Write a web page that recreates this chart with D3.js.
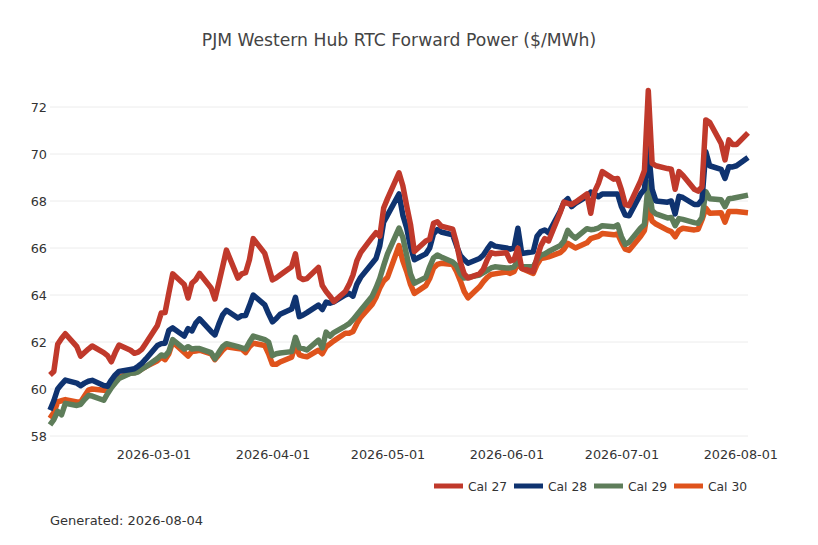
<!DOCTYPE html>
<html>
<head>
<meta charset="utf-8">
<script src="https://cdn.jsdelivr.net/npm/d3@7"></script>
<style>
  body { margin: 0; background: #fff; }
  svg { font-family: "DejaVu Sans", sans-serif; }
</style>
</head>
<body>
<svg width="818" height="545"></svg>
<script>
// business days, Feb 2 to Aug 3 2026
var dates = [
  "2026-02-02","2026-02-03","2026-02-04","2026-02-05","2026-02-06",
  "2026-02-09","2026-02-10","2026-02-11","2026-02-12","2026-02-13",
  "2026-02-16","2026-02-17","2026-02-18","2026-02-19","2026-02-20",
  "2026-02-23","2026-02-24","2026-02-25","2026-02-26","2026-02-27",
  "2026-03-02","2026-03-03","2026-03-04","2026-03-05","2026-03-06",
  "2026-03-09","2026-03-10","2026-03-11","2026-03-12","2026-03-13",
  "2026-03-16","2026-03-17","2026-03-18","2026-03-19","2026-03-20",
  "2026-03-23","2026-03-24","2026-03-25","2026-03-26","2026-03-27",
  "2026-03-30","2026-03-31",
  "2026-04-01","2026-04-02","2026-04-03",
  "2026-04-06","2026-04-07","2026-04-08","2026-04-09","2026-04-10",
  "2026-04-13","2026-04-14","2026-04-15","2026-04-16","2026-04-17",
  "2026-04-20","2026-04-21","2026-04-22","2026-04-23","2026-04-24",
  "2026-04-27","2026-04-28","2026-04-29","2026-04-30",
  "2026-05-01",
  "2026-05-04","2026-05-05","2026-05-06","2026-05-07","2026-05-08",
  "2026-05-11","2026-05-12","2026-05-13","2026-05-14","2026-05-15",
  "2026-05-18","2026-05-19","2026-05-20","2026-05-21","2026-05-22",
  "2026-05-25","2026-05-26","2026-05-27","2026-05-28","2026-05-29",
  "2026-06-01","2026-06-02","2026-06-03","2026-06-04","2026-06-05",
  "2026-06-08","2026-06-09","2026-06-10","2026-06-11","2026-06-12",
  "2026-06-15","2026-06-16","2026-06-17","2026-06-18","2026-06-19",
  "2026-06-22","2026-06-23","2026-06-24","2026-06-25","2026-06-26",
  "2026-06-29","2026-06-30",
  "2026-07-01","2026-07-02","2026-07-03",
  "2026-07-06","2026-07-07","2026-07-08","2026-07-09","2026-07-10",
  "2026-07-13","2026-07-14","2026-07-15","2026-07-16","2026-07-17",
  "2026-07-20","2026-07-21","2026-07-22","2026-07-23","2026-07-24",
  "2026-07-27","2026-07-28","2026-07-29","2026-07-30","2026-07-31",
  "2026-08-03"
];

var cal27 = [
  60.6, 60.75, 61.9, 62.15, 62.35, 61.8, 61.4, 61.55, 61.7, 61.83,
  61.55, 61.42, 61.16, 61.55, 61.87, 61.65, 61.52, 61.57, 61.7, 61.95,
  62.7, 63.23, 63.25, 64.1, 64.9, 64.45, 63.87, 64.5, 64.65, 64.92,
  64.3, 63.83, 64.5, 65.2, 65.91, 64.72, 64.9, 64.95, 65.5, 66.4,
  65.77, 65.2,
  64.64, 64.73, 64.85, 65.2, 65.75, 64.75, 64.66, 64.7, 65.17, 64.4,
  64.15, 63.95, 63.72, 64.15, 64.45, 64.85, 65.45, 65.8, 66.45, 66.65,
  66.5, 67.7,
  68.1, 69.2, 68.65, 67.8, 67.0, 65.85, 66.3, 66.37, 67.05, 67.12,
  66.93, 66.8, 66.2, 65.4, 64.9, 64.72, 64.9, 65.1, 65.5, 65.8, 65.76,
  65.8, 65.45, 65.5, 66.0, 65.13, 64.99, 65.6, 66.1, 66.4, 66.3,
  67.5, 67.95, 67.9, 67.85, 67.95, 68.3, 67.48, 68.4, 68.75, 69.25,
  68.93, 68.96,
  68.47, 67.85, 67.8, 68.85, 69.3, 72.7, 69.6, 69.5,
  69.38, 69.35, 68.5, 69.25, 69.1, 68.5, 68.42, 68.6, 71.45, 71.35,
  70.45, 69.75, 70.6, 70.4, 70.4,
  70.9
];

var cal28 = [
  59.1, 59.5, 60.0, 60.2, 60.38, 60.25, 60.14, 60.25, 60.33, 60.37,
  60.15, 60.12, 60.38, 60.6, 60.75, 60.83, 60.86, 60.97, 61.1, 61.28,
  61.85, 61.93, 61.95, 62.5, 62.6, 62.25, 62.57, 62.47, 62.8, 62.98,
  62.45, 62.3, 62.75, 63.15, 63.35, 63.02, 63.12, 63.13, 63.55, 64.0,
  63.58, 63.2,
  62.86, 63.0, 63.18, 63.4, 63.9, 63.08, 63.15, 63.25, 63.57, 63.38,
  63.7, 63.65, 63.71, 64.0, 64.07, 63.95, 64.45, 64.75, 65.35, 65.55,
  66.1, 67.1,
  67.4, 68.3, 67.4, 66.85, 66.05, 65.5, 65.75, 66.0, 66.6, 66.78,
  66.68, 66.56, 66.1, 65.68, 65.5, 65.35, 65.55, 65.7, 65.95, 66.18, 66.08,
  66.0, 65.95, 66.0, 66.84, 65.77, 65.84, 66.5, 66.7, 66.77, 66.65,
  67.55, 67.95, 68.1, 67.76, 67.9, 68.2, 68.38, 68.3, 68.18, 68.3,
  68.3, 68.3,
  67.76, 67.4, 67.37, 68.3, 68.5, 70.25, 68.5, 68.0,
  67.95, 68.0, 67.45, 68.2, 68.15, 67.85, 67.85, 68.05, 70.1, 69.5,
  69.35, 68.96, 69.46, 69.45, 69.5,
  69.85
];

var cal29 = [
  58.47, 58.7, 59.05, 58.9, 59.39, 59.3, 59.35, 59.55, 59.72, 59.7,
  59.52, 59.8, 60.05, 60.25, 60.45, 60.67, 60.68, 60.73, 60.85, 60.95,
  61.3, 61.45, 61.4, 61.6, 62.1, 61.7, 61.8, 61.7, 61.72, 61.72,
  61.55, 61.28, 61.55, 61.8, 61.93, 61.8, 61.75, 61.7, 62.0, 62.25,
  62.1, 62.0,
  61.42, 61.5, 61.53, 61.59, 62.2, 61.75, 61.72, 61.66, 62.08, 61.75,
  62.42, 62.25, 62.4, 62.68, 62.78, 62.95, 63.15, 63.35, 63.95, 64.3,
  64.71, 65.25,
  65.75, 66.85, 66.45, 65.7, 64.9, 64.5, 64.75, 65.2, 65.58, 65.7,
  65.62, 65.4, 65.25, 64.9, 64.72, 64.75, 64.85, 64.95, 65.05, 65.15, 65.2,
  65.15, 65.15, 65.2, 65.45, 65.2, 65.2, 65.5, 65.7, 65.75, 65.85,
  66.1, 66.3, 66.75, 66.55, 66.42, 66.82, 66.78, 66.8, 66.85, 66.95,
  66.9, 66.98,
  66.48, 66.15, 66.25, 66.85, 67.0, 68.8, 67.6, 67.45,
  67.28, 67.3, 66.95, 67.25, 67.22, 67.08, 67.05, 67.3, 68.4, 68.1,
  68.05, 67.76, 68.1, 68.12, 68.15,
  68.25
];

var cal30 = [
  58.75, 59.0, 59.45, 59.5, 59.55, 59.45, 59.45, 59.7, 59.95, 60.0,
  59.95, 59.95, 60.1, 60.3, 60.5, 60.68, 60.7, 60.75, 60.85, 60.95,
  61.2, 61.35, 61.25, 61.5, 62.0, 61.55, 61.4, 61.6, 61.62, 61.65,
  61.5, 61.25, 61.45, 61.65, 61.8, 61.72, 61.7, 61.55, 61.8, 61.95,
  61.85, 61.5,
  61.05, 61.05, 61.15, 61.35, 61.9, 61.45, 61.4, 61.37, 61.65, 61.5,
  61.8, 61.92, 62.05, 62.37, 62.37, 62.45, 62.78, 63.05, 63.6, 63.9,
  64.3, 64.6,
  64.75, 66.1, 65.45, 65.0, 64.45, 64.07, 64.4, 64.7, 65.15, 65.3,
  65.35, 65.3, 65.0, 64.6, 64.15, 63.88, 64.35, 64.57, 64.75, 64.87, 64.9,
  64.98, 64.92, 65.0, 65.35, 65.13, 64.92, 65.3, 65.55, 65.58, 65.62,
  65.8, 65.95, 66.2, 66.1, 66.0, 66.22, 66.4, 66.45, 66.5, 66.62,
  66.56, 66.6,
  66.25, 65.95, 65.9, 66.5, 66.75, 67.75, 67.15, 67.02,
  66.76, 66.7, 66.48, 66.75, 66.84, 66.77, 66.8, 67.2, 67.7, 67.48,
  67.5, 67.1, 67.55, 67.55, 67.55,
  67.5
];

var seriesNames = ["Cal 27", "Cal 28", "Cal 29", "Cal 30"];
var seriesValues = [cal27, cal28, cal29, cal30];
var colors = ["#c0392b", "#0f3370", "#5e7d5a", "#df531c"];

var yTicks = [58, 60, 62, 64, 66, 68, 70, 72];
var xTicks = ["2026-03-01", "2026-04-01", "2026-05-01", "2026-06-01", "2026-07-01", "2026-08-01"];

var parse = d3.utcParse("%Y-%m-%d");
var days = dates.map(parse);

var svg = d3.select("svg");

var x = d3.scaleUtc()
    .domain(d3.extent(days))
    .range([50, 748]);

var y = d3.scaleLinear()
    .domain([58, 72])
    .range([436, 107]);

// title
svg.append("text")
    .attr("x", 399)
    .attr("y", 46)
    .attr("text-anchor", "middle")
    .attr("font-size", 17.2)
    .attr("fill", "#444")
    .text("PJM Western Hub RTC Forward Power ($/MWh)");

// gridlines
svg.append("g")
    .selectAll("line")
    .data(yTicks)
    .enter()
    .append("line")
    .attr("x1", 50)
    .attr("x2", 748)
    .attr("y1", d => y(d))
    .attr("y2", d => y(d))
    .attr("stroke", "#ececec")
    .attr("stroke-width", 1)

// y axis
var yAxis = svg.append("g")
    .attr("transform", "translate(50,0)")
    .call(d3.axisLeft(y).tickValues(yTicks).tickSize(0).tickPadding(3).tickFormat(d3.format("d")));
yAxis.select(".domain").remove();
yAxis.selectAll("text")
    .attr("font-family", "DejaVu Sans")
    .attr("font-size", 12.8)
    .attr("fill", "#333");

// x axis
var xAxis = svg.append("g")
    .attr("transform", "translate(0,436)")
    .call(d3.axisBottom(x).tickValues(xTicks.map(parse)).tickSize(0).tickPadding(14)
        .tickFormat(d3.utcFormat("%Y-%m-%d")));
xAxis.select(".domain").remove();
xAxis.selectAll("text")
    .attr("font-family", "DejaVu Sans")
    .attr("font-size", 12.8)
    .attr("fill", "#333");

var line = d3.line()
    .x((d, i) => x(days[i]))
    .y(d => y(d));

// Cal 30 at the bottom, Cal 27 on top
var order = [3, 2, 1, 0];
svg.append("g")
    .selectAll("path")
    .data(order)
    .enter()
    .append("path")
    .attr("d", k => line(seriesValues[k]))
    .attr("fill", "none")
    .attr("stroke", k => colors[k])
    .attr("stroke-width", 5.5)
    .attr("stroke-linejoin", "round")

// legend
var legendX = [434, 514, 594, 674];
var legend = svg.append("g")
    .selectAll("g")
    .data(seriesNames)
    .enter()
    .append("g")
    .attr("transform", (d, i) => "translate(" + legendX[i] + ",486)");
legend.append("line")
    .attr("x1", 0)
    .attr("x2", 29)
    .attr("stroke", (d, i) => colors[i])
    .attr("stroke-width", 5);
legend.append("text")
    .attr("x", 34)
    .attr("y", 4.5)
    .attr("font-size", 12.3)
    .attr("fill", "#333")
    .text(d => d);

// footer
svg.append("text")
    .attr("x", 50)
    .attr("y", 525)
    .attr("font-size", 13)
    .attr("fill", "#333")
    .text("Generated: 2026-08-04");
</script>
</body>
</html>
